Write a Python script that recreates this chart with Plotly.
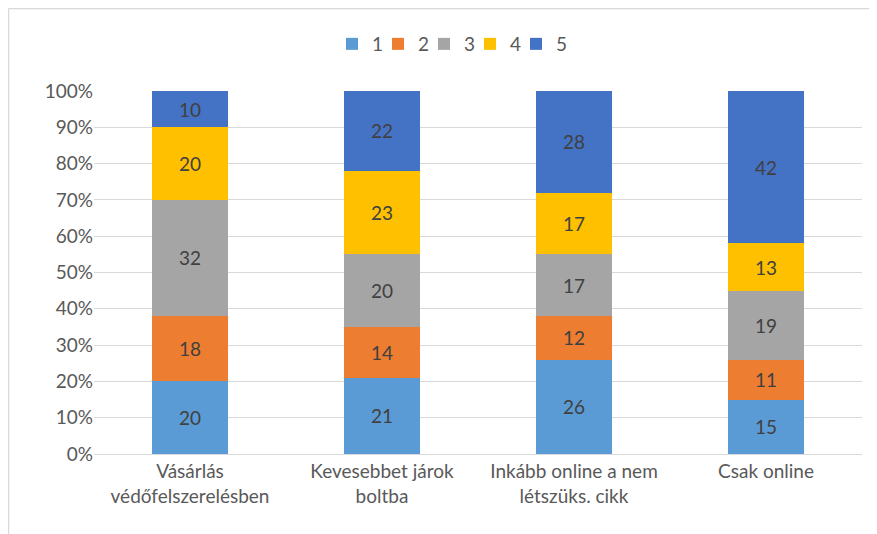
import plotly.graph_objects as go

categories = ["Vásárlás<br>védőfelszerelésben", "Kevesebbet járok<br>boltba",
              "Inkább online a nem<br>létszüks. cikk", "Csak online"]
series_names = ["1", "2", "3", "4", "5"]
s1 = [20, 21, 26, 15]
s2 = [18, 14, 12, 11]
s3 = [32, 20, 17, 19]
s4 = [20, 23, 17, 13]
s5 = [10, 22, 28, 42]
values = [s1, s2, s3, s4, s5]
colors = ["#5B9BD5", "#ED7D31", "#A5A5A5", "#FFC000", "#4472C4"]
tick_vals = [0, 10, 20, 30, 40, 50, 60, 70, 80, 90, 100]
tick_text = [f"{v}%" for v in tick_vals]

FONT = "Lato"
FS = 19
W, H = 877, 534
ML, MR, MT, MB = 86, 23, 83, 88
PW, PH = W - ML - MR, H - MT - MB

fig = go.Figure()
for name, vals, col in zip(series_names, values, colors):
    fig.add_trace(go.Bar(
        x=categories, y=vals, name=name,
        marker=dict(color=col, line=dict(width=0)),
        text=[str(v) for v in vals], textposition="inside",
        insidetextanchor="middle",
        textfont=dict(family=FONT, size=FS, color="#404040"),
    ))
# empty legend spacer so the last legend label is not clipped
fig.add_trace(go.Bar(x=[None], y=[None], name=" ", showlegend=True, opacity=0,
                     marker=dict(color="rgba(255,255,255,0)", line=dict(width=0, color="rgba(255,255,255,0)")),
                     hoverinfo="skip"))

fig.update_layout(
    barmode="stack", barnorm="percent", bargap=0.6,
    width=W, height=H,
    margin=dict(l=ML, r=MR, t=MT, b=MB, autoexpand=False),
    plot_bgcolor="white", paper_bgcolor="white",
    font=dict(family=FONT, size=FS, color="#595959"),
    legend=dict(orientation="h", x=(332 - 8 - ML) / PW, xanchor="left",
                y=(H - MB - 36) / PH, yanchor="middle",
                font=dict(family=FONT, size=FS, color="#595959"),
                itemwidth=30, entrywidth=1, entrywidthmode="pixels",
                traceorder="normal", bgcolor="rgba(0,0,0,0)"),
    uniformtext=dict(mode="show", minsize=10),
    showlegend=True,
)
fig.update_yaxes(range=[0, 100], tickvals=tick_vals, ticktext=tick_text,
                 showgrid=True, gridcolor="#D9D9D9", gridwidth=1,
                 zeroline=False, showline=False, ticks="", ticklen=0,
                 tickfont=dict(family=FONT, size=FS, color="#595959"))
fig.update_xaxes(showline=True, linecolor="#D9D9D9", linewidth=1, ticks="",
                 tickfont=dict(family=FONT, size=FS, color="#595959"))
# chart-area frame (top and left edges visible)
x_left = (0.5 - ML) / PW
y_top = 1 + (MT - 0.5) / PH
fig.add_shape(type="line", xref="paper", yref="paper",
              x0=x_left, x1=(W - ML) / PW, y0=y_top, y1=y_top,
              line=dict(color="#D9D9D9", width=1.5))
fig.add_shape(type="line", xref="paper", yref="paper",
              x0=x_left, x1=x_left, y0=y_top, y1=-MB / PH,
              line=dict(color="#D9D9D9", width=1.5))

fig.write_html("out.html")
